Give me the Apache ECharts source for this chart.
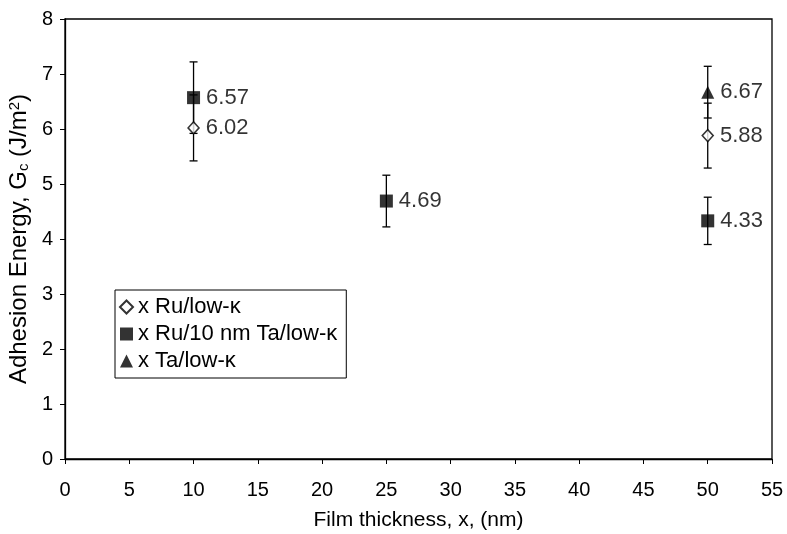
<!DOCTYPE html>
<html>
<head>
<meta charset="utf-8">
<script src="https://cdn.jsdelivr.net/npm/echarts@6/dist/echarts.min.js"></script>
<style>html,body{margin:0;padding:0;background:#fff}#c{width:787px;height:534px}</style>
</head>
<body>
<div id="c"></div>
<script>
var xTicks = [0,5,10,15,20,25,30,35,40,45,50,55];
var yTicks = [0,1,2,3,4,5,6,7,8];

var ruLowK_x = [10, 50];
var ruLowK_y = [6.02, 5.88];
var ruLowK_err = [0.60, 0.59];

var ruTa_x = [10, 25, 50];
var ruTa_y = [6.57, 4.69, 4.33];
var ruTa_err = [0.65, 0.47, 0.43];

var taLowK_x = [50];
var taLowK_y = [6.67];
var taLowK_err = [0.47];

var seriesNames = ['x Ru/low-\u03ba', 'x Ru/10 nm Ta/low-\u03ba', 'x Ta/low-\u03ba'];

var FONT = 'Liberation Sans, Arial, Helvetica, sans-serif';

function pts(xs, ys) { return xs.map(function (x, i) { return [x, ys[i]]; }); }
function errs(xs, ys, es) { return xs.map(function (x, i) { return [x, ys[i] - es[i], ys[i] + es[i]]; }); }

function errorSeries(data) {
  return {
    type: 'custom',
    z: 1,
    silent: true,
    data: data,
    renderItem: function (params, api) {
      var x = api.value(0);
      var lo = api.coord([x, api.value(1)]);
      var hi = api.coord([x, api.value(2)]);
      var w = 4;
      var style = { stroke: '#000', lineWidth: 1.3 };
      return {
        type: 'group',
        children: [
          { type: 'line', shape: { x1: lo[0], y1: lo[1], x2: hi[0], y2: hi[1] }, style: style },
          { type: 'line', shape: { x1: lo[0] - w, y1: lo[1], x2: lo[0] + w, y2: lo[1] }, style: style },
          { type: 'line', shape: { x1: hi[0] - w, y1: hi[1], x2: hi[0] + w, y2: hi[1] }, style: style }
        ]
      };
    }
  };
}

var labelCfg = {
  show: true,
  position: 'right',
  distance: 6,
  fontFamily: FONT,
  fontSize: 22,
  color: '#000',
  textBorderWidth: 0,
  formatter: function (p) { return p.value[1].toFixed(2); }
};

var chart = echarts.init(document.getElementById('c'), null, { renderer: 'canvas' });
chart.setOption({
  animation: false,
  backgroundColor: '#fff',
  grid: {
    left: 65, right: 15, top: 19, bottom: 75,
    containLabel: false,
    outerBoundsMode: 'none',
    show: true, borderColor: '#000', borderWidth: 1.3, backgroundColor: 'transparent'
  },
  legend: {
    orient: 'vertical',
    left: 115, top: 290,
    backgroundColor: '#fff',
    borderColor: '#000', borderWidth: 1,
    padding: [6, 9, 6, 4],
    itemGap: 5,
    itemWidth: 13, itemHeight: 13,
    textStyle: { fontFamily: FONT, fontSize: 22, color: '#000' },
    data: seriesNames
  },
  xAxis: {
    type: 'value', min: 0, max: 55, interval: 5,
    name: 'Film thickness, x, (nm)',
    nameLocation: 'middle', nameGap: 51,
    nameTextStyle: { fontFamily: FONT, fontSize: 21, color: '#000' },
    axisLine: { show: true, lineStyle: { color: '#000', width: 1.3 } },
    axisTick: { show: true, inside: false, length: 5, lineStyle: { color: '#000' } },
    axisLabel: { fontFamily: FONT, fontSize: 20, color: '#000', margin: 21,
      formatter: function (v) { return xTicks.indexOf(v) >= 0 ? String(v) : ''; } },
    splitLine: { show: false }
  },
  yAxis: {
    type: 'value', min: 0, max: 8, interval: 1,
    name: 'Adhesion Energy, G{sub|c} (J/m{sup|2})',
    nameLocation: 'middle', nameGap: 31,
    nameTextStyle: {
      fontFamily: FONT, fontSize: 24, color: '#000',
      rich: {
        sub: { fontFamily: FONT, fontSize: 15, color: '#000', verticalAlign: 'bottom', padding: [7, 0, 0, 0] },
        sup: { fontFamily: FONT, fontSize: 15, color: '#000', verticalAlign: 'top', padding: [0, 0, 9, 0] }
      }
    },
    axisLine: { show: true, lineStyle: { color: '#000', width: 1.3 } },
    axisTick: { show: true, inside: false, length: 5, lineStyle: { color: '#000' } },
    axisLabel: { fontFamily: FONT, fontSize: 20, color: '#000', margin: 12,
      formatter: function (v) { return yTicks.indexOf(v) >= 0 ? String(v) : ''; } },
    splitLine: { show: false }
  },
  series: [
    errorSeries(errs(ruLowK_x, ruLowK_y, ruLowK_err)),
    errorSeries(errs(ruTa_x, ruTa_y, ruTa_err)),
    errorSeries(errs(taLowK_x, taLowK_y, taLowK_err)),
    {
      name: seriesNames[0], type: 'scatter', z: 3,
      symbol: 'diamond', symbolSize: [11, 12],
      itemStyle: { color: '#fff', borderColor: '#000', borderWidth: 1.5 },
      data: pts(ruLowK_x, ruLowK_y),
      label: labelCfg
    },
    {
      name: seriesNames[1], type: 'scatter', z: 3,
      symbol: 'rect', symbolSize: 13,
      itemStyle: { color: '#000' },
      data: pts(ruTa_x, ruTa_y),
      label: labelCfg
    },
    {
      name: seriesNames[2], type: 'scatter', z: 3,
      symbol: 'triangle', symbolSize: 13,
      itemStyle: { color: '#000' },
      data: pts(taLowK_x, taLowK_y),
      label: labelCfg
    }
  ]
});
</script>
</body>
</html>
